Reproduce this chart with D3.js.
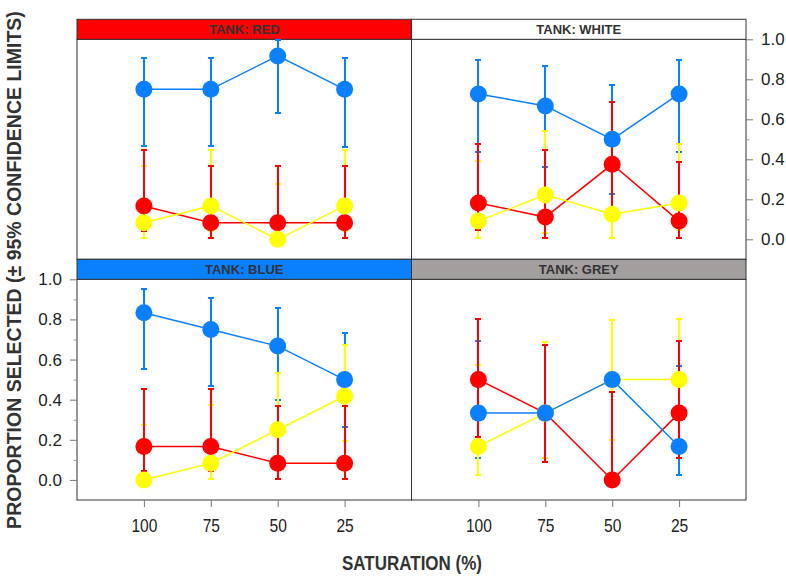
<!DOCTYPE html>
<html>
<head>
<meta charset="utf-8">
<script src="https://cdn.jsdelivr.net/npm/d3@7"></script>
<style>
html,body{margin:0;padding:0;background:#fff;}
svg{display:block;}
</style>
</head>
<body>
<svg id="chart" width="786" height="576"></svg>
<script>
// ---- DATA ----
const saturation = ["100", "75", "50", "25"];
const tanks = ["RED", "WHITE", "BLUE", "GREY"];
const stripColors = ["#FF0000", "#FFFFFF", "#0A80FF", "#A39F9F"];
const yTicks = [0.0, 0.2, 0.4, 0.6, 0.8, 1.0];
const yMinorTicks = [0.1, 0.3, 0.5, 0.7, 0.9];

// proportion selected, rows = tank (RED, WHITE, BLUE, GREY), cols = saturation
const blueMean = [[0.75, 0.75, 0.917, 0.75], [0.727, 0.667, 0.5, 0.727], [0.833, 0.75, 0.667, 0.5], [0.333, 0.333, 0.5, 0.167]];
const blueLow  = [[0.468, 0.468, 0.631, 0.46], [0.437, 0.362, 0.227, 0.437], [0.551, 0.47, 0.399, 0.266], [0.11, 0.11, 0.2, 0.026]];
const blueHigh = [[0.905, 0.905, 0.998, 0.905], [0.897, 0.869, 0.773, 0.897], [0.952, 0.907, 0.855, 0.734], [0.691, 0.688, 0.797, 0.57]];

const redMean = [[0.167, 0.083, 0.083, 0.083], [0.182, 0.111, 0.375, 0.091], [0.167, 0.167, 0.083, 0.083], [0.5, 0.333, 0.0, 0.333]];
const redLow  = [[0.04, 0.008, 0.008, 0.008], [0.046, 0.005, 0.146, 0.005], [0.046, 0.046, 0.006, 0.006], [0.212, 0.09, 0.0, 0.11]];
const redHigh = [[0.445, 0.365, 0.365, 0.365], [0.475, 0.445, 0.686, 0.387], [0.454, 0.454, 0.37, 0.37], [0.8, 0.671, 0.439, 0.691]];

const yellowMean = [[0.083, 0.167, 0.0, 0.167], [0.091, 0.222, 0.125, 0.182], [0.0, 0.083, 0.25, 0.417], [0.167, 0.333, 0.5, 0.5]];
const yellowLow  = [[0.008, 0.04, 0.0, 0.04], [0.005, 0.03, 0.008, 0.046], [0.0, 0.006, 0.093, 0.196], [0.026, 0.11, 0.2, 0.2]];
const yellowHigh = [[0.365, 0.445, 0.276, 0.445], [0.392, 0.541, 0.482, 0.478], [0.276, 0.372, 0.531, 0.674], [0.575, 0.688, 0.797, 0.8]];

const series = [
  {name: "red", color: "#FF0000", mean: redMean, low: redLow, high: redHigh},
  {name: "yellow", color: "#FFFF00", mean: yellowMean, low: yellowLow, high: yellowHigh},
  {name: "blue", color: "#0A80FF", mean: blueMean, low: blueLow, high: blueHigh}
];
const barOrder = [2, 1, 0]; // blue, yellow, red (red on top)

// ---- LAYOUT ----
const svg = d3.select("#chart");
const colX = [[77, 411.5], [411.5, 746]];
const rowY = [{strip: 19.3, top: 39.3, bottom: 259.3}, {strip: 259.3, top: 279.3, bottom: 500}];
const font = "'Liberation Sans', Arial, Helvetica, sans-serif";

tanks.forEach((tank, ti) => {
  const col = ti % 2, row = Math.floor(ti / 2);
  const [x0, x1] = colX[col];
  const r = rowY[row];
  const x = d3.scaleLinear().domain([0, 5]).range([x0, x1]);
  const y = d3.scaleLinear().domain([-0.1, 1.0]).range([r.bottom, r.top]);
  const g = svg.append("g");

  g.append("rect").attr("x", x0).attr("y", r.top).attr("width", x1 - x0).attr("height", r.bottom - r.top)
    .attr("fill", "#fff").attr("stroke", "#333").attr("stroke-width", 1);

  g.append("rect").attr("x", x0).attr("y", r.strip).attr("width", x1 - x0).attr("height", r.top - r.strip)
    .attr("fill", stripColors[ti]).attr("stroke", "#333").attr("stroke-width", 1);
  g.append("text").attr("x", (x0 + x1) / 2).attr("y", r.strip + 15)
    .attr("text-anchor", "middle").attr("font-family", font).attr("font-weight", "bold")
    .attr("font-size", 13).attr("fill", "#333").text("TANK: " + tank);

  const pg = g.append("g");
  series.forEach(s => {
    const line = d3.line().x((d, i) => x(i + 1)).y(d => y(d));
    pg.append("path").datum(s.mean[ti]).attr("d", line).attr("fill", "none")
      .attr("stroke", s.color).attr("stroke-width", 1.5);
  });
  barOrder.forEach(si => {
    const s = series[si];
    const eb = pg.append("g").attr("stroke", s.color).attr("stroke-width", 2)
      .attr("shape-rendering", "crispEdges");
    saturation.forEach((c, i) => {
      const cx = Math.round(x(i + 1));
      eb.append("line").attr("x1", cx).attr("x2", cx).attr("y1", y(s.low[ti][i])).attr("y2", y(s.high[ti][i]));
      eb.append("line").attr("x1", cx - 3).attr("x2", cx + 3).attr("y1", y(s.low[ti][i])).attr("y2", y(s.low[ti][i]));
      eb.append("line").attr("x1", cx - 3).attr("x2", cx + 3).attr("y1", y(s.high[ti][i])).attr("y2", y(s.high[ti][i]));
    });
  });
  series.forEach(s => {
    pg.selectAll(null).data(s.mean[ti]).enter().append("circle")
      .attr("cx", (d, i) => x(i + 1)).attr("cy", d => y(d)).attr("r", 8.5).attr("fill", s.color);
  });

  if (row === 1) {
    const xa = d3.axisBottom(x).tickValues([1, 2, 3, 4]).tickFormat(d => saturation[d - 1])
      .tickSize(7).tickPadding(12);
    const ag = svg.append("g").attr("transform", `translate(0,${r.bottom})`).call(xa);
    ag.select(".domain").remove();
    ag.selectAll("line").attr("stroke", "#777");
    ag.selectAll("text").attr("font-family", font).attr("font-size", 19).attr("fill", "#222")
      .attr("transform", function() {
        const tx = +d3.select(this).attr("x") || 0;
        return `scale(0.82,1)`;
      })
      .attr("x", 0);
    ag.selectAll(".tick").each(function() {
      const t = d3.select(this);
      t.select("text").attr("transform", "scale(0.82,1)");
    });
  }
  if (ti === 2 || ti === 1) {
    const left = ti === 2;
    const xpos = left ? x0 : x1;
    const major = (left ? d3.axisLeft(y) : d3.axisRight(y)).tickValues(yTicks)
      .tickFormat(d3.format(".1f")).tickSize(7).tickPadding(8);
    const ag = svg.append("g").attr("transform", `translate(${xpos},0)`).call(major);
    ag.select(".domain").remove();
    ag.selectAll("line").attr("stroke", "#777");
    ag.selectAll("text").attr("font-family", font).attr("font-size", 17).attr("fill", "#222");
    const minor = (left ? d3.axisLeft(y) : d3.axisRight(y)).tickValues(yMinorTicks).tickFormat("").tickSize(3.5);
    const mg = svg.append("g").attr("transform", `translate(${xpos},0)`).call(minor);
    mg.select(".domain").remove();
    mg.selectAll("line").attr("stroke", "#999");
  }
});

svg.append("text").attr("transform", "translate(412,570) scale(0.85,1)").attr("text-anchor", "middle")
  .attr("font-family", font).attr("font-weight", "bold").attr("font-size", 20).attr("fill", "#333")
  .text("SATURATION (%)");
svg.append("text").attr("transform", "translate(21,270) rotate(-90)").attr("text-anchor", "middle")
  .attr("font-family", font).attr("font-weight", "bold").attr("font-size", 19.5).attr("fill", "#333")
  .text("PROPORTION SELECTED (± 95% CONFIDENCE LIMITS)");
</script>
</body>
</html>
